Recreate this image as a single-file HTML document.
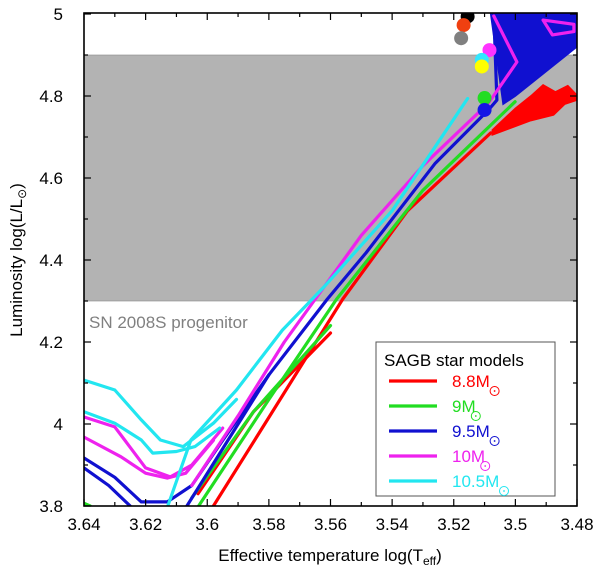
<!DOCTYPE html>
<html><head><meta charset="utf-8"><style>
body{margin:0;background:#fff;}
svg text{font-family:"Liberation Sans",sans-serif;}
</style></head><body>
<svg id="chart" width="600" height="572" viewBox="0 0 600 572" xmlns="http://www.w3.org/2000/svg">
<defs><clipPath id="pc"><rect x="84" y="13" width="493" height="493"/></clipPath></defs>
<g id="plot" clip-path="url(#pc)"></g>
<g id="axes"></g>
<text x="89" y="328" font-size="17" fill="#808080">SN 2008S progenitor</text>
<text x="330" y="561" font-size="17" text-anchor="middle">Effective temperature log(T<tspan font-size="12" dy="4">eff</tspan><tspan dy="-4">)</tspan></text>
<text transform="translate(22,260) rotate(-90)" font-size="17" text-anchor="middle">Luminosity log(L/L<tspan font-size="12" dy="4">⊙</tspan><tspan dy="-4">)</tspan></text>
</svg>
<script>
const xTicks=[3.64,3.62,3.6,3.58,3.56,3.54,3.52,3.5,3.48];
const xTickLabels=["3.64","3.62","3.6","3.58","3.56","3.54","3.52","3.5","3.48"];
const yTicks=[3.8,4,4.2,4.4,4.6,4.8,5];
const yTickLabels=["3.8","4","4.2","4.4","4.6","4.8","5"];
const bandLum=[4.3,4.9];
// Red 8.8
const redT1=[3.598,3.58,3.556,3.535,3.508];
const redL1=[3.80,4.016,4.305,4.52,4.71];
const redT2=[3.603,3.585,3.56];
const redL2=[3.83,4.03,4.222];
const redFanT=[3.5075,3.50,3.495,3.491,3.487,3.483,3.48,3.48,3.484,3.4876,3.495,3.5075];
const redFanL=[4.717,4.77,4.80,4.827,4.81,4.825,4.802,4.79,4.78,4.754,4.74,4.705];
// Green 9
const greenT1=[3.6028,3.58,3.558,3.53,3.5001];
const greenL1=[3.8,4.06,4.305,4.57,4.786];
const greenT2=[3.605,3.585,3.56];
const greenL2=[3.82,4.03,4.24];
const greenT3=[3.641,3.638];
const greenL3=[3.81,3.80];
// Blue 9.5
const blueT1=[3.6066,3.58,3.561,3.5485,3.526,3.5085,3.506,3.507];
const blueL1=[3.8,4.12,4.305,4.417,4.636,4.768,4.79,5.0];
const blueT2=[3.64,3.63,3.6214,3.613,3.605,3.595,3.58];
const blueL2=[3.917,3.87,3.81,3.81,3.85,3.96,4.12];
const blueT3=[3.64,3.632,3.625];
const blueL3=[3.893,3.85,3.80];
const blueFanT=[3.504,3.508,3.48,3.48,3.49,3.5];
const blueFanL=[4.78,5.0,5.0,4.92,4.86,4.80];
// Magenta 10
const magT1=[3.605,3.59,3.575,3.55,3.53,3.5087,3.4995,3.507];
const magL1=[3.85,4.02,4.2,4.46,4.63,4.783,4.883,4.995];
const magT2=[3.64,3.63,3.62,3.612,3.605,3.595];
const magL2=[4.017,3.993,3.893,3.871,3.90,3.99];
const magT3=[3.64,3.628,3.62,3.613,3.607,3.598];
const magL3=[3.968,3.92,3.88,3.868,3.88,3.96];
const magBoxT=[3.491,3.481,3.481,3.488,3.491];
const magBoxL=[4.985,4.975,4.957,4.949,4.985];
// Cyan 10.5
const cyanT1=[3.6128,3.6053,3.5905,3.5756,3.562,3.54,3.5155];
const cyanL1=[3.8,3.961,4.083,4.229,4.335,4.52,4.794];
const cyanT2=[3.64,3.63,3.6214,3.6152,3.6078,3.598,3.5905];
const cyanL2=[4.107,4.083,4.01,3.961,3.945,4.002,4.06];
const cyanT3=[3.64,3.63,3.6214,3.6177,3.61,3.604,3.596];
const cyanL3=[4.03,4.002,3.961,3.929,3.933,3.945,3.99];
// Progenitor dots
const dotT=[3.5155,3.5168,3.5176,3.5084,3.5109,3.5109,3.510,3.510];
const dotL=[4.994,4.973,4.941,4.912,4.888,4.872,4.795,4.766];
const dotC=["#000","#f04010","#808080","#ff33ff","#33e6ff","#ffff00","#22dd22","#1515e6"];
const legendLabels=["8.8M","9M","9.5M","10M","10.5M"];
const legendColors=["#ff0000","#22dd22","#1010d0","#ee22ee","#22e6f0"];

const X=t=>84+(3.64-t)/0.16*493;
const Y=l=>506-(l-3.8)/1.2*492;
const NS="http://www.w3.org/2000/svg";
const plot=document.getElementById('plot'),axes=document.getElementById('axes');
function mk(tag,attrs,parent){const e=document.createElementNS(NS,tag);for(const k in attrs)e.setAttribute(k,attrs[k]);parent.appendChild(e);return e;}
const band=mk('rect',{x:84,y:Y(bandLum[1]),width:493,height:Y(bandLum[0])-Y(bandLum[1]),fill:'#b3b3b3',stroke:'#888','stroke-width':0.6},plot);


function pts(T,L){return T.map((t,i)=>X(t).toFixed(1)+','+Y(L[i]).toFixed(1)).join(' ');}
function line(T,L,c,name){const e=mk('polyline',{points:pts(T,L),fill:'none',stroke:c,'stroke-width':3.2,'stroke-linejoin':'round','stroke-linecap':'round'},plot);

}
function poly(T,L,c,name){const e=mk('polygon',{points:pts(T,L),fill:c,stroke:c,'stroke-width':1.5},plot);

}
const R='#ff0000',G='#22dd22',B='#1010d0',M='#ee22ee',C='#22e6f0';
line(redT1,redL1,R,'track-8.8');line(redT2,redL2,R,'track-8.8-b');poly(redFanT,redFanL,R,'track-8.8-tp');
line(greenT1,greenL1,G,'track-9');line(greenT2,greenL2,G,'track-9-b');line(greenT3,greenL3,G,'track-9-c');
poly(blueFanT,blueFanL,B,'track-9.5-tp');
line(blueT1,blueL1,B,'track-9.5');line(blueT2,blueL2,B,'track-9.5-loop');line(blueT3,blueL3,B,'track-9.5-loop-b');
line(magT1,magL1,M,'track-10');line(magT2,magL2,M,'track-10-loop');line(magT3,magL3,M,'track-10-loop-b');
line(magBoxT,magBoxL,M,'track-10-tp');
line(cyanT1,cyanL1,C,'track-10.5');line(cyanT2,cyanL2,C,'track-10.5-loop');line(cyanT3,cyanL3,C,'track-10.5-loop-b');
dotT.forEach((t,i)=>{const d=mk('circle',{cx:X(t),cy:Y(dotL[i]),r:7,fill:dotC[i]},plot);

});
const fr=mk('rect',{x:84,y:13,width:493,height:493,fill:'none',stroke:'#000','stroke-width':1.6},axes);


for(let v=3.64;v>=3.4799;v-=0.01){const x=X(v);const major=Math.abs(Math.round(v*100)%2)===0;const len=major?7:4;
mk('line',{x1:x,y1:506,x2:x,y2:506-len,stroke:'#000','stroke-width':1.2},axes);
mk('line',{x1:x,y1:13,x2:x,y2:13+len,stroke:'#000','stroke-width':1.2},axes);}
for(let v=3.8;v<=5.001;v+=0.1){const y=Y(v);const major=Math.abs(Math.round(v*10)%2)===0;const len=major?7:4;
mk('line',{x1:84,y1:y,x2:84+len,y2:y,stroke:'#000','stroke-width':1.2},axes);
mk('line',{x1:577,y1:y,x2:577-len,y2:y,stroke:'#000','stroke-width':1.2},axes);}
xTicks.forEach((v,i)=>{const t=mk('text',{x:X(v),y:530,'text-anchor':'middle','font-size':17},axes);t.textContent=xTickLabels[i];

});
yTicks.forEach((v,i)=>{const t=mk('text',{x:63,y:Y(v)+6,'text-anchor':'end','font-size':17},axes);t.textContent=yTickLabels[i];

});
const lg=mk('g',{},axes);


mk('rect',{x:376,y:342,width:179,height:154,fill:'#fff',stroke:'#555','stroke-width':1},lg);
const lt=mk('text',{x:384,y:366,'font-size':17},lg);lt.textContent='SAGB star models';


legendLabels.forEach((s,i)=>{const y=381+i*25;
const l=mk('line',{x1:389,y1:y,x2:437,y2:y,stroke:legendColors[i],'stroke-width':3.2},lg);


const t=mk('text',{x:452,y:y+6,'font-size':17,fill:legendColors[i]},lg);t.textContent=s;


const w=s.length*9.4;
mk('circle',{cx:452+w+5,cy:y+10,r:4.5,fill:'none',stroke:legendColors[i],'stroke-width':1},lg);
mk('circle',{cx:452+w+5,cy:y+10,r:0.9,fill:legendColors[i]},lg);});
</script>
</body></html>
